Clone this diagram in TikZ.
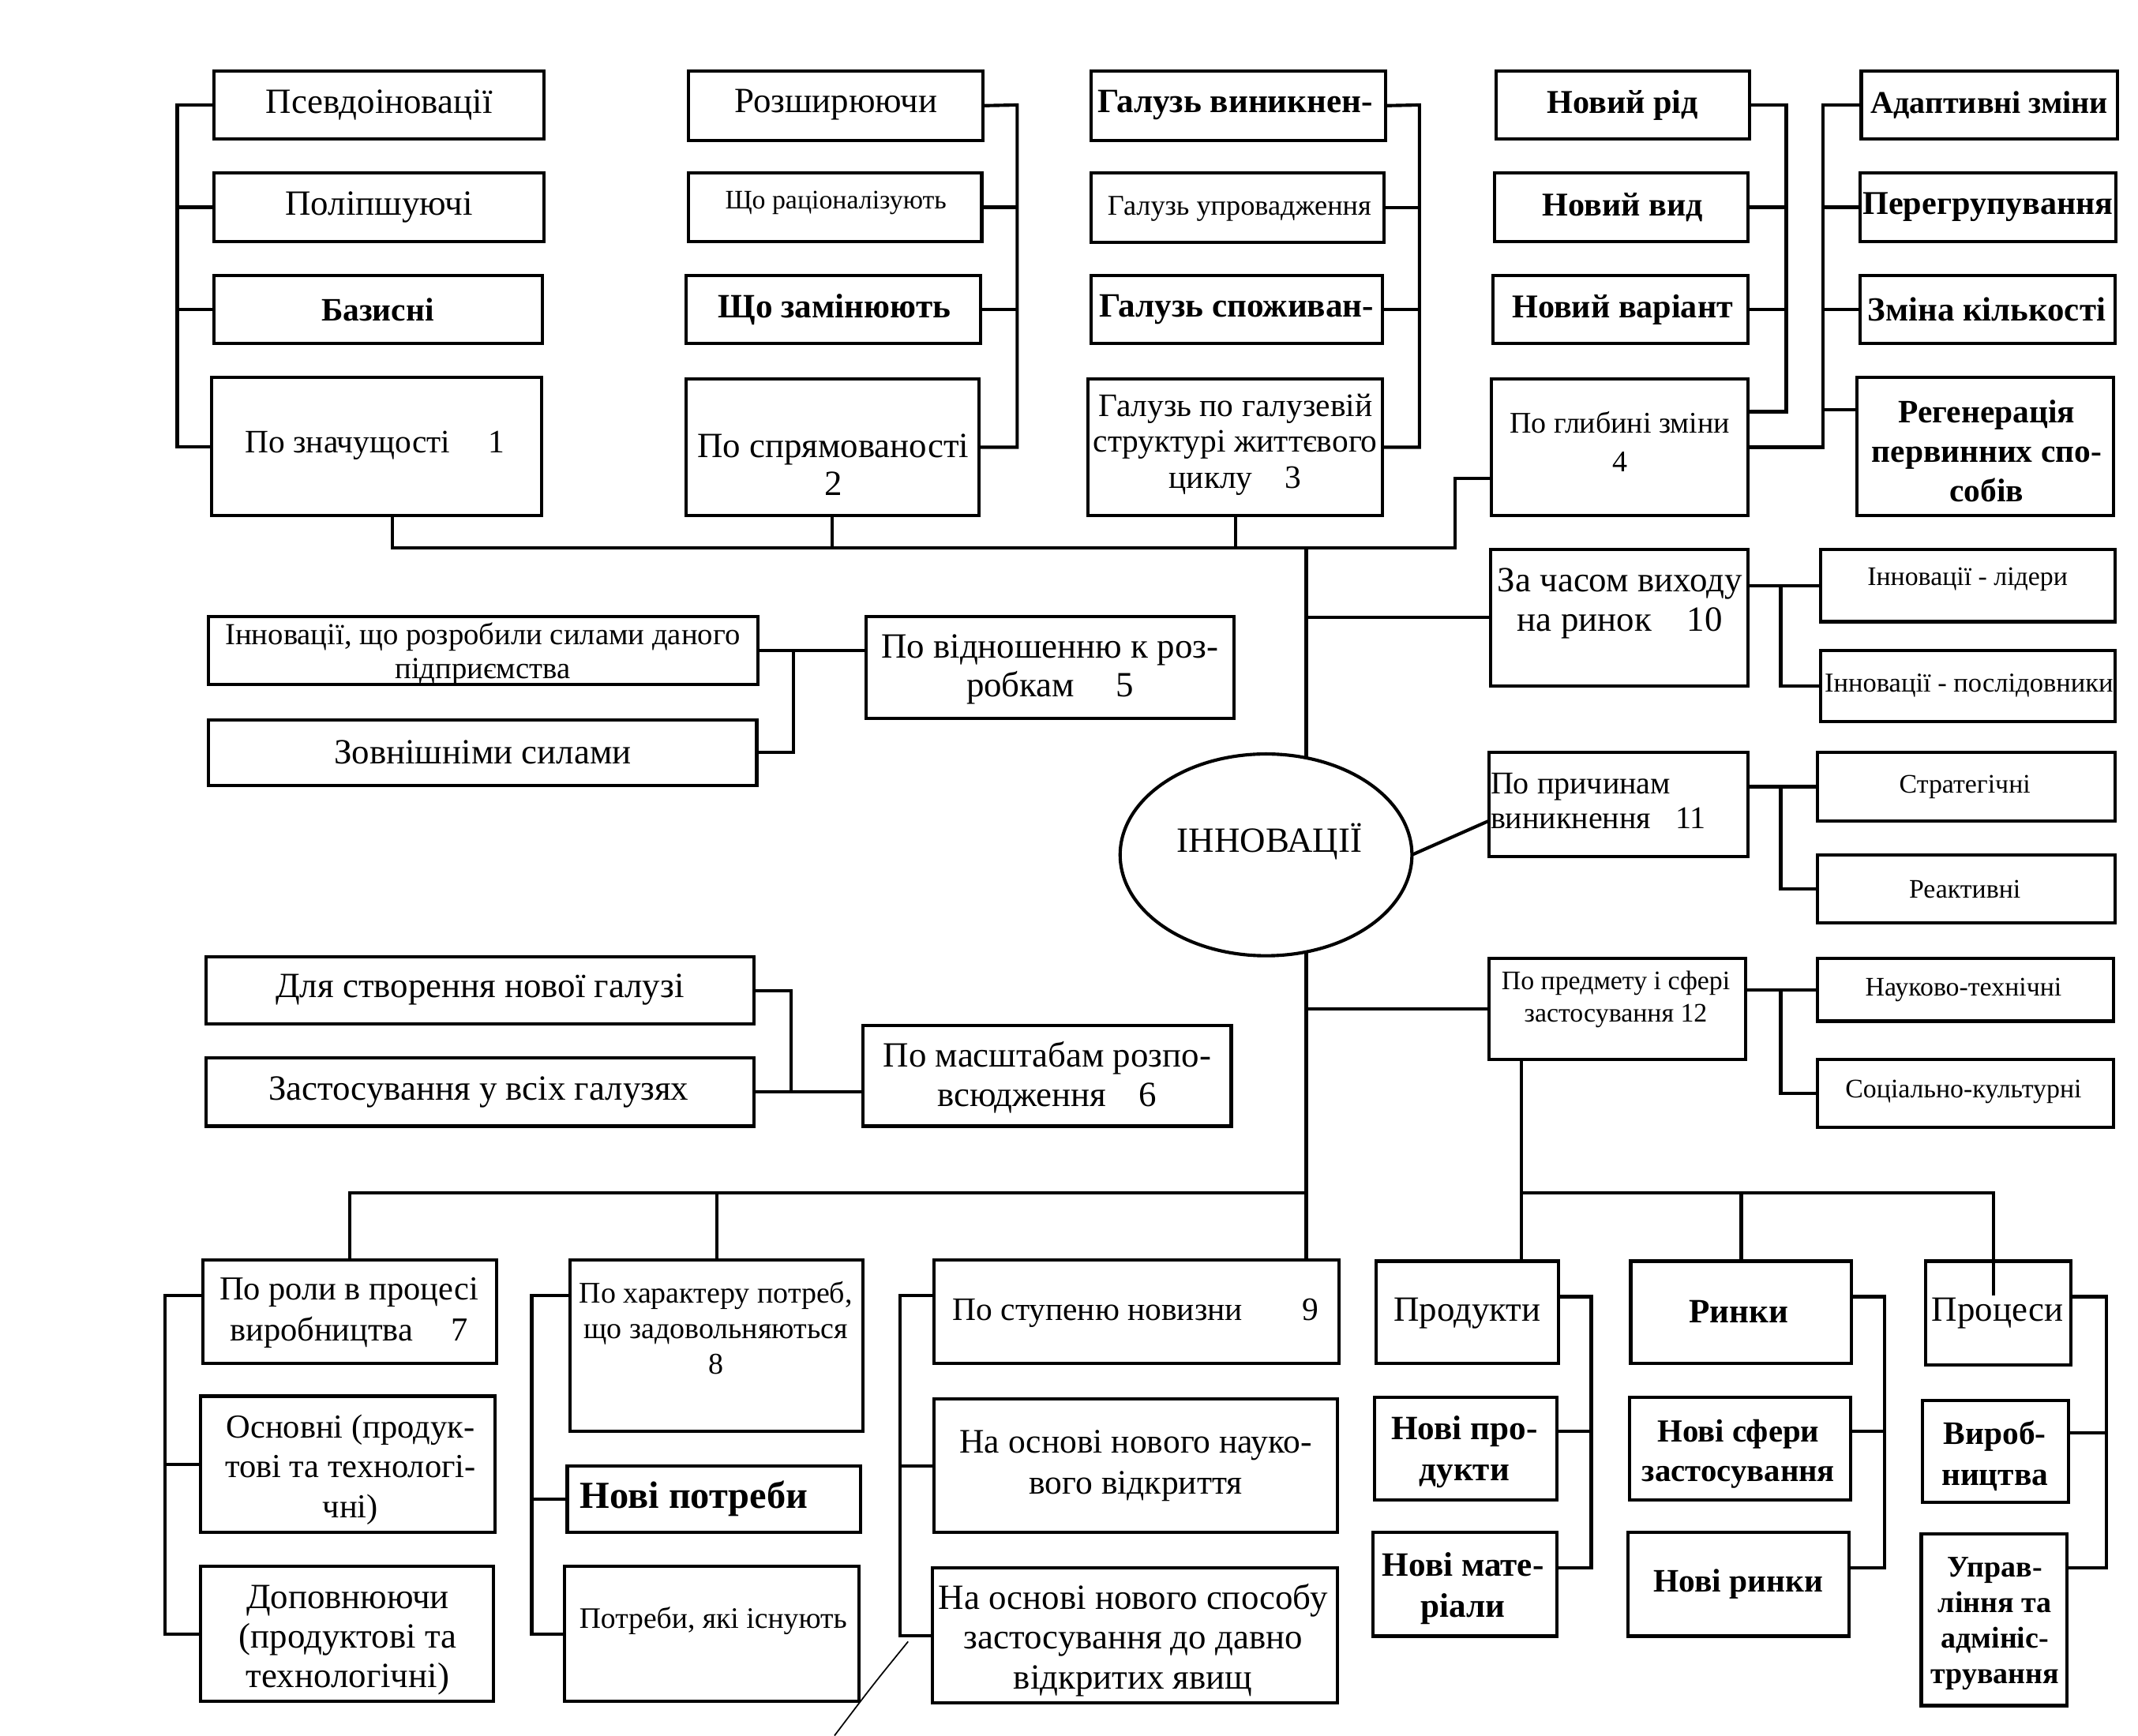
\documentclass[tikz,border=0pt]{standalone}
\usepackage{fontspec}
\setmainfont{Liberation Serif}
\usetikzlibrary{calc,shapes.geometric}
\newcommand\fs[2]{\fontsize{#1}{#2}\selectfont}
\newcommand\bx[5]{\node[box, minimum width={(#4-#2)*0.5pt}, minimum height={(#5-#3)*0.5pt}] (#1) at ({(#2+#4)/2},{(#3+#5)/2}) {};}
\newcommand\tx[5]{\node[txt, font={#4}] (#1) at (#2,#3) {#5};}
\tikzset{
  box/.style={draw, rectangle, line width=1.2pt, inner sep=0pt, outer sep=0pt},
  txt/.style={inner sep=0pt, align=center},
  oval/.style={draw, ellipse, line width=1.2pt, inner sep=0pt, outer sep=0pt},
  hair/.style={line width=0.5pt}
}
\begin{document}
\begin{tikzpicture}[x=0.5pt, y=-0.5pt, line width=1.2pt]
\useasboundingbox (0,0) rectangle (1568,1273);

% ---------- top row boxes ----------
\bx{a1}{157}{52}{399}{102}
\bx{a2}{157}{127}{399}{177}
\bx{a3}{157}{202}{398}{252}
\bx{a4}{155}{277}{397}{378}
\tx{a1t}{278}{77}{\fs{13}{15}}{Псевдоіновації}
\tx{a2t}{278}{152}{\fs{13}{15}}{Поліпшуючі}
\tx{a3t}{277}{227}{\fs{12}{14}\bfseries}{Базисні}
\tx{a4t}{275}{327}{\fs{12}{14}}{По значущості\hspace{14pt}1}

\bx{b1}{505}{52}{721}{103}
\bx{b2}{505}{127}{720}{177}
\bx{b3}{503}{202}{719}{252}
\bx{b4}{503}{278}{718}{378}
\tx{b1t}{613}{77}{\fs{13}{15}}{Розширюючи}
\tx{b2t}{613}{149}{\fs{9.8}{12}}{Що раціоналізують}
\tx{b3t}{612}{227}{\fs{12.5}{14}\bfseries}{Що замінюють}
\tx{b4t}{611}{341}{\fs{13}{14}}{По спрямованості\\2}

\bx{c1}{800}{52}{1016}{103}
\bx{c2}{800}{127}{1015}{178}
\bx{c3}{800}{202}{1014}{252}
\bx{c4}{798}{278}{1014}{378}
\tx{c1t}{906}{77}{\fs{12.5}{14}\bfseries}{Галузь виникнен-}
\tx{c2t}{909}{153}{\fs{10.5}{12}}{Галузь упровадження}
\tx{c3t}{907}{227}{\fs{12.5}{14}\bfseries}{Галузь споживан-}
\tx{c4t}{906}{326}{\fs{12}{13.2}}{Галузь по галузевій\\структурі життєвого\\циклу\hspace{12pt}3}

\bx{d1}{1097}{52}{1283}{102}
\bx{d2}{1096}{127}{1282}{177}
\bx{d3}{1095}{202}{1282}{252}
\bx{d4}{1094}{278}{1282}{378}
\tx{d1t}{1190}{77}{\fs{12.2}{14}\bfseries}{Новий рід}
\tx{d2t}{1190}{152}{\fs{12.2}{14}\bfseries}{Новий вид}
\tx{d3t}{1190}{227}{\fs{12.2}{14}\bfseries}{Новий варіант}
\tx{d4t}{1188}{324}{\fs{11}{14}}{По глибині зміни\\4}

\bx{e1}{1365}{52}{1553}{102}
\bx{e2}{1364}{127}{1552}{177}
\bx{e3}{1364}{202}{1551}{252}
\bx{e4}{1362}{277}{1550}{378}
\tx{e1t}{1459}{77}{\fs{11.6}{14}\bfseries}{Адаптивні зміни}
\tx{e2t}{1458}{152}{\fs{12.2}{14}\bfseries}{Перегрупування}
\tx{e3t}{1457}{227}{\fs{12.4}{14}\bfseries}{Зміна кількості}
\tx{e4t}{1457}{331}{\fs{12}{14.5}\bfseries}{Регенерація\\первинних спо-\\собів}

% ---------- top connectors ----------
\coordinate (ja) at (130,77);
\draw (a1.west) -- (ja) |- (a4.west);
\draw (a2.west) -- (a2.west -| ja);
\draw (a3.west) -- (a3.west -| ja);

\coordinate (jb) at (746,77);
\draw (b1.east) -- (jb) |- (b4.east);
\draw (b2.east) -- (b2.east -| jb);
\draw (b3.east) -- (b3.east -| jb);

\coordinate (jc) at (1041,77);
\draw (c1.east) -- (jc) |- (c4.east);
\draw (c2.east) -- (c2.east -| jc);
\draw (c3.east) -- (c3.east -| jc);

\coordinate (jd) at (1310,77);
\coordinate (d4c) at ($(d4.east)+(0,-26)$);
\draw (d1.east) -- (jd) |- (d4c);
\draw (d2.east) -- (d2.east -| jd);
\draw (d3.east) -- (d3.east -| jd);

\coordinate (je) at (1337,77);
\coordinate (e4c) at ($(e4.west)+(0,-27)$);
\draw (d4.east) -| (je) -- (e1.west);
\draw (e2.west) -- (e2.west -| je);
\draw (e3.west) -- (e3.west -| je);
\draw (e4c) -- (e4c -| je);

\coordinate (ctop) at (958,402);
\coordinate (kink) at (1067,402);
\coordinate (a4d) at ($(a4.south)+(12,0)$);
\coordinate (d4in) at ($(d4.west)+(0,23)$);
\draw (a4d) |- (kink) |- (d4in);
\draw (b4.south) -- (b4.south |- ctop);
\draw (c4.south) -- (c4.south |- ctop);

% ---------- centre ----------
\node[oval, minimum width=107pt, minimum height=74pt] (ell) at (928.5,627) {};
\tx{ellt}{931}{617}{\fs{13}{15}}{ІННОВАЦІЇ}
\coordinate (ellT) at (958,556);
\coordinate (ellB) at (958,698);
\coordinate (cbot) at (958,875);
\draw (ctop) -- (ellT);
\draw (ellB) -- (cbot);

% ---------- middle left ----------
\bx{f1}{153}{452}{556}{502}
\bx{f2}{153}{528}{555}{576}
\bx{f3}{635}{452}{905}{527}
\tx{f1t}{354}{479.5}{\fs{11.2}{12.5}}{Інновації, що розробили силами даного\\підприємства}
\tx{f2t}{354}{552}{\fs{13}{15}}{Зовнішніми силами}
\tx{f3t}{770}{491}{\fs{13}{14}}{По відношенню к роз-\\робкам\hspace{15pt}5}
\coordinate (jf) at (582,477);
\draw (f1.east) -- (f1.east -| f3.west);
\draw (f2.east) -| (jf);

\bx{g1}{151}{702}{553}{751}
\bx{g2}{151}{776}{553}{826}
\bx{g3}{633}{752}{903}{826}
\tx{g1t}{352}{726}{\fs{13}{15}}{Для створення нової галузі}
\tx{g2t}{351}{801}{\fs{13}{15}}{Застосування у всіх галузях}
\tx{g3t}{768}{790}{\fs{13}{14.5}}{По масштабам розпо-\\всюдження\hspace{12pt}6}
\coordinate (jg) at (580,801);
\draw (g1.east) -| (jg);
\draw (g2.east) -- (g2.east -| g3.west);

% ---------- middle right ----------
\bx{h1}{1093}{403}{1282}{503}
\bx{h2}{1335}{403}{1551}{456}
\bx{h3}{1335}{477}{1551}{529}
\tx{h1t}{1188}{442.5}{\fs{13}{14.5}}{За часом виходу\\на ринок\hspace{13pt}10}
\tx{h2t}{1443}{425}{\fs{9.8}{12}}{Інновації - лідери}
\tx{h3t}{1444}{503}{\fs{10}{12}}{Інновації - послідовники}
\coordinate (jh) at (1306,429.5);
\draw (h1.west -| ctop) -- (h1.west);
\draw (h2.west -| h1.east) -- (h2.west);
\draw (jh) |- (h3.west);

\bx{i1}{1092}{552}{1282}{628}
\bx{i2}{1333}{552}{1551}{602}
\bx{i3}{1333}{627}{1551}{677}
\node[txt, align=left, anchor=west, font={\fs{11.6}{12.5}}] (i1t) at (1092,587.5) {По причинам\\виникнення\hspace{9pt}11};
\tx{i2t}{1441}{577}{\fs{9.8}{12}}{Стратегічні}
\tx{i3t}{1441}{652}{\fs{9.8}{12}}{Реактивні}
\coordinate (ji) at (1306,577);
\draw (i2.west -| i1.east) -- (i2.west);
\draw (ji) |- (i3.west);
\coordinate (i1in) at ($(i1.west)+(0,12)$);
\draw (ell.east) -- (i1in);

\bx{j1}{1092}{703}{1280}{777}
\bx{j2}{1333}{703}{1550}{749}
\bx{j3}{1333}{777}{1550}{827}
\tx{j1t}{1185}{733}{\fs{9.8}{12}}{По предмету і сфері\\застосування 12}
\tx{j2t}{1440}{726}{\fs{9.8}{12}}{Науково-технічні}
\tx{j3t}{1440}{801}{\fs{9.8}{12}}{Соціально-культурні}
\coordinate (jj) at (1306,726);
\draw (j1.west -| ctop) -- (j1.west);
\draw (j2.west -| j1.east) -- (j2.west);
\draw (jj) |- (j3.west);

% ---------- bottom row ----------
\bx{k1}{149}{924}{364}{1000}
\bx{k2}{147}{1024}{363}{1124}
\bx{k3}{147}{1149}{362}{1248}
\tx{k1t}{256}{963}{\fs{12.3}{15}}{По роли в процесі\\виробництва\hspace{14pt}7}
\tx{k2t}{257}{1078}{\fs{12.3}{14.5}}{Основні (продук-\\тові та технологі-\\чні)}
\tx{k3t}{255}{1203}{\fs{13}{14.5}}{Доповнюючи\\(продуктові та\\технологічні)}

\bx{l1}{418}{924}{633}{1050}
\bx{l2}{416}{1075}{631}{1124}
\bx{l3}{414}{1149}{630}{1248}
\tx{l1t}{525}{974}{\fs{11}{13}}{По характеру потреб,\\що задовольняються\\8}
\tx{l2t}{509}{1099}{\fs{14}{15}\bfseries}{Нові потреби}
\tx{l3t}{523}{1189}{\fs{10.9}{13}}{Потреби, які існують}

\bx{m1}{685}{924}{982}{1000}
\bx{m2}{685}{1026}{981}{1124}
\bx{m3}{684}{1150}{981}{1249}
\tx{m1t}{833}{963}{\fs{12}{14}}{По ступеню новизни\hspace{22pt}9}
\tx{m2t}{833}{1075}{\fs{12.6}{15}}{На основі нового науко-\\вого відкриття}
\tx{m3t}{831}{1203}{\fs{13}{14.5}}{На основі нового способу\\застосування до давно\\відкритих явищ}

\bx{n1}{1009}{925}{1143}{1000}
\bx{n2}{1008}{1025}{1142}{1100}
\bx{n3}{1007}{1124}{1142}{1200}
\tx{n1t}{1076}{963}{\fs{13}{15}}{Продукти}
\tx{n2t}{1074}{1065}{\fs{12.5}{15}\bfseries}{Нові про-\\дукти}
\tx{n3t}{1073}{1165}{\fs{12.5}{15}\bfseries}{Нові мате-\\ріали}

\bx{o1}{1196}{925}{1358}{1000}
\bx{o2}{1195}{1025}{1357}{1100}
\bx{o3}{1194}{1124}{1356}{1200}
\tx{o1t}{1275}{962}{\fs{12.5}{15}\bfseries}{Ринки}
\tx{o2t}{1275}{1066.5}{\fs{11.8}{14.5}\bfseries}{Нові сфери\\застосування}
\tx{o3t}{1275}{1162}{\fs{12}{14}\bfseries}{Нові ринки}

\bx{p1}{1412}{925}{1519}{1001}
\bx{p2}{1410}{1027}{1517}{1102}
\bx{p3}{1409}{1125}{1516}{1251}
\tx{p1t}{1465}{963}{\fs{13}{15}}{Процеси}
\tx{p2t}{1463}{1068}{\fs{12}{15}\bfseries}{Вироб-\\ництва}
\tx{p3t}{1463}{1191}{\fs{11}{13}\bfseries}{Управ-\\ління та\\адмініс-\\трування}

% ---------- bottom connectors ----------
\draw (k1.north) |- (cbot);
\draw (l1.north) -- (l1.north |- cbot);
\draw (cbot) -- (cbot |- m1.north);

\coordinate (jbr) at (1116,875);
\coordinate (pdrop) at (1462,875);
\coordinate (pend) at (1462,950);
\draw (jbr |- j1.south) -- (jbr) -- (jbr |- n1.north);
\draw (jbr) -- (pdrop) -- (pend);
\draw (o1.north) -- (o1.north |- jbr);

\coordinate (jk) at (121,950);
\coordinate (k1c) at ($(k1.west)+(0,-12)$);
\draw (k1c) -- (jk) |- (k3.west);
\draw (k2.west) -- (k2.west -| jk);

\coordinate (jl) at (390,950);
\coordinate (l1c) at ($(l1.west)+(0,-37)$);
\draw (l1c) -- (jl) |- (l3.west);
\draw (l2.west) -- (l2.west -| jl);

\coordinate (jm) at (660,950);
\coordinate (m1c) at ($(m1.west)+(0,-12)$);
\draw (m1c) -- (jm) |- (m3.west);
\draw (m2.west) -- (m2.west -| jm);

\coordinate (jn) at (1167,951);
\coordinate (n1c) at ($(n1.east)+(0,-11.5)$);
\coordinate (n2c) at ($(n2.east)+(0,-12.5)$);
\coordinate (n3c) at ($(n3.east)+(0,-12)$);
\draw (n1c) -- (jn) |- (n3c);
\draw (n2c) -- (n2c -| jn);

\coordinate (jo) at (1382,951);
\coordinate (o1c) at ($(o1.east)+(0,-11.5)$);
\coordinate (o2c) at ($(o2.east)+(0,-12.5)$);
\coordinate (o3c) at ($(o3.east)+(0,-12)$);
\draw (o1c) -- (jo) |- (o3c);
\draw (o2c) -- (o2c -| jo);

\coordinate (jp) at (1545,951);
\coordinate (p1c) at ($(p1.east)+(0,-12)$);
\coordinate (p2c) at ($(p2.east)+(0,-13.5)$);
\coordinate (p3c) at ($(p3.east)+(0,-38)$);
\draw (p1c) -- (jp) |- (p3c);
\draw (p2c) -- (p2c -| jp);

% stray thin stroke
\coordinate (s1) at (666,1204);
\coordinate (s2) at (612,1273);
\draw[hair] (s1) .. controls (640,1236) .. (s2);
\end{tikzpicture}
\end{document}
